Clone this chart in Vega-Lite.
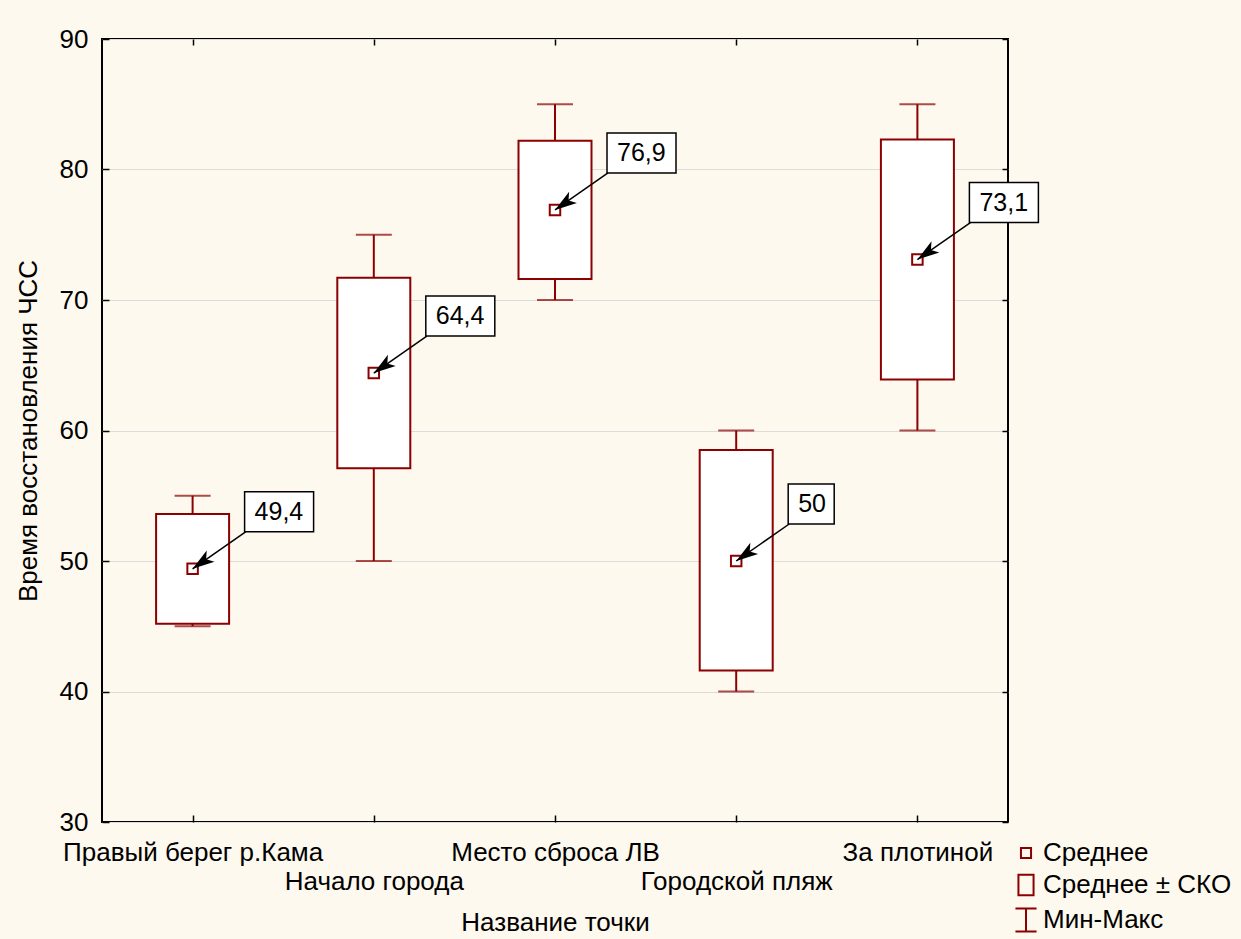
{
  "$schema": "https://vega.github.io/schema/vega-lite/v6.json",
  "width": 906,
  "height": 783,
  "autosize": {"type": "none"},
  "padding": {"left": 102, "top": 39, "right": 233, "bottom": 117},
  "background": "#fef9ee",
  "config": {
    "font": "Liberation Sans",
    "view": {"fill": "white", "stroke": "black", "strokeWidth": 2},
    "locale": {"number": {"decimal": ",", "thousands": " ", "grouping": [3], "currency": ["", ""]}},
    "axis": {"labelColor": "black", "titleColor": "black", "tickColor": "black", "labelFontSize": 26, "titleFontSize": 26, "titleFontWeight": "normal", "domain": false, "tickWidth": 1.5, "labelLimit": 0}
  },
  "data": {"values": [
    {"name": "Правый берег р.Кама", "mean": 49.4, "lo": 45.2, "hi": 53.6, "min": 45, "max": 55},
    {"name": "Начало города", "mean": 64.4, "lo": 57.1, "hi": 71.7, "min": 50, "max": 75},
    {"name": "Место сброса ЛВ", "mean": 76.9, "lo": 71.6, "hi": 82.2, "min": 70, "max": 85},
    {"name": "Городской пляж", "mean": 50, "lo": 41.6, "hi": 58.5, "min": 40, "max": 60},
    {"name": "За плотиной", "mean": 73.1, "lo": 63.9, "hi": 82.3, "min": 60, "max": 85}
  ]},
  "resolve": {"axis": {"x": "independent", "y": "independent"}},
  "layer": [
    {
      "mark": {"type": "rule", "color": "#8b0000", "strokeWidth": 2},
      "encoding": {
        "x": {"field": "name", "type": "nominal", "sort": null,
              "scale": {"type": "point", "padding": 0.5, "domain": ["Правый берег р.Кама", "Начало города", "Место сброса ЛВ", "Городской пляж", "За плотиной"]},
              "axis": {"orient": "bottom", "labelAngle": 0, "tickSize": -7, "labelPadding": 24, "labelOverlap": false, "labelBound": false, "labelFlush": false, "labelLineHeight": 29, "labelLimit": 0, "labelFontSize": 26,
                       "labelExpr": "datum.value == 'Начало города' || datum.value == 'Городской пляж' ? ['', datum.label] : datum.label",
                       "title": "Название точки", "titlePadding": 15, "titleFontSize": 26}},
        "y": {"field": "min", "type": "quantitative",
              "scale": {"domain": [30, 90], "nice": false, "zero": false},
              "axis": {"orient": "left", "values": [30, 40, 50, 60, 70, 80, 90], "tickSize": -7, "labelPadding": 21, "labelFontSize": 26, "grid": true, "gridColor": "#dcdcdc", "gridWidth": 1.2, "title": "Время восстановления ЧСС", "titleFontSize": 26, "titlePadding": 18}},
        "y2": {"field": "max"}
      }
    },
    {
      "mark": {"type": "rule", "opacity": 0},
      "encoding": {
        "x": {"field": "name", "type": "nominal", "sort": null,
              "axis": {"orient": "top", "labels": false, "title": null, "tickSize": -6, "grid": false}},
        "y": {"field": "min", "type": "quantitative",
              "axis": {"orient": "right", "values": [30, 40, 50, 60, 70, 80, 90], "labels": false, "title": null, "tickSize": -6, "grid": false}}
      }
    },
    {
      "mark": {"type": "tick", "orient": "horizontal", "color": "#8b0000", "size": 36, "thickness": 2},
      "encoding": {
        "x": {"field": "name", "type": "nominal", "sort": null, "axis": null},
        "y": {"field": "min", "type": "quantitative", "axis": null}
      }
    },
    {
      "mark": {"type": "tick", "orient": "horizontal", "color": "#8b0000", "size": 36, "thickness": 2},
      "encoding": {
        "x": {"field": "name", "type": "nominal", "sort": null, "axis": null},
        "y": {"field": "max", "type": "quantitative", "axis": null}
      }
    },
    {
      "mark": {"type": "bar", "width": 73, "fill": "white", "stroke": "#8b0000", "strokeWidth": 2},
      "encoding": {
        "x": {"field": "name", "type": "nominal", "sort": null, "axis": null},
        "y": {"field": "lo", "type": "quantitative", "axis": null},
        "y2": {"field": "hi"}
      }
    },
    {
      "mark": {"type": "point", "shape": "square", "size": 110, "filled": false, "fill": "white", "fillOpacity": 1, "stroke": "#8b0000", "strokeWidth": 2, "opacity": 1},
      "encoding": {
        "x": {"field": "name", "type": "nominal", "sort": null, "axis": null},
        "y": {"field": "mean", "type": "quantitative", "axis": null}
      }
    },
    {
      "mark": {"type": "rule", "color": "black", "strokeWidth": 1.5, "x2Offset": 53, "y2Offset": -37},
      "encoding": {
        "x": {"field": "name", "type": "nominal", "sort": null, "axis": null},
        "x2": {"field": "name"},
        "y": {"field": "mean", "type": "quantitative", "axis": null},
        "y2": {"field": "mean"}
      }
    },
    {
      "mark": {"type": "point", "shape": "M0,0L-2,-0.62L-1.5,0L-2,0.62Z", "size": 484, "filled": true, "color": "black", "opacity": 1, "angle": 145},
      "encoding": {
        "x": {"field": "name", "type": "nominal", "sort": null, "axis": null},
        "y": {"field": "mean", "type": "quantitative", "axis": null}
      }
    },
    {
      "transform": [{"filter": "datum.mean % 1 != 0"}],
      "mark": {"type": "rect", "fill": "white", "stroke": "black", "strokeWidth": 1.5, "xOffset": 52, "x2Offset": 121, "yOffset": -37, "y2Offset": -77},
      "encoding": {
        "x": {"field": "name", "type": "nominal", "sort": null, "axis": null},
        "x2": {"field": "name"},
        "y": {"field": "mean", "type": "quantitative", "axis": null},
        "y2": {"field": "mean"}
      }
    },
    {
      "transform": [{"filter": "datum.mean % 1 == 0"}],
      "mark": {"type": "rect", "fill": "white", "stroke": "black", "strokeWidth": 1.5, "xOffset": 52, "x2Offset": 98, "yOffset": -37, "y2Offset": -77},
      "encoding": {
        "x": {"field": "name", "type": "nominal", "sort": null, "axis": null},
        "x2": {"field": "name"},
        "y": {"field": "mean", "type": "quantitative", "axis": null},
        "y2": {"field": "mean"}
      }
    },
    {
      "mark": {"type": "text", "align": "left", "baseline": "middle", "dx": 62, "dy": -57, "fontSize": 25, "color": "black"},
      "encoding": {
        "x": {"field": "name", "type": "nominal", "sort": null, "axis": null},
        "y": {"field": "mean", "type": "quantitative", "axis": null},
        "text": {"field": "mean", "type": "quantitative", "format": "~g"}
      }
    },
    {
      "data": {"values": [{"k": "Среднее"}, {"k": "Среднее ± СКО"}, {"k": "Мин-Макс"}]},
      "mark": {"type": "point", "filled": false, "opacity": 0, "size": 576, "stroke": "#8b0000"},
      "encoding": {
        "shape": {"field": "k", "type": "nominal", "sort": null,
                  "scale": {"domain": ["Среднее", "Среднее ± СКО", "Мин-Макс"],
                            "range": ["M-0.42,-0.42H0.42V0.42H-0.42Z", "M-0.63,-0.85H0.63V0.85H-0.63Z", "M-0.88,-0.96H0.88M0,-0.96V0.96M-0.88,0.96H0.88"]},
                  "legend": {"orient": "none", "legendX": 911, "legendY": 801, "title": null, "padding": 0,
                             "symbolSize": 576, "symbolOpacity": 1, "symbolStrokeColor": "#8b0000", "symbolFillColor": "transparent", "symbolStrokeWidth": 2,
                             "labelFontSize": 26, "labelColor": "black", "labelOffset": 4, "rowPadding": 4, "labelLimit": 300}}
      }
    }
  ]
}
